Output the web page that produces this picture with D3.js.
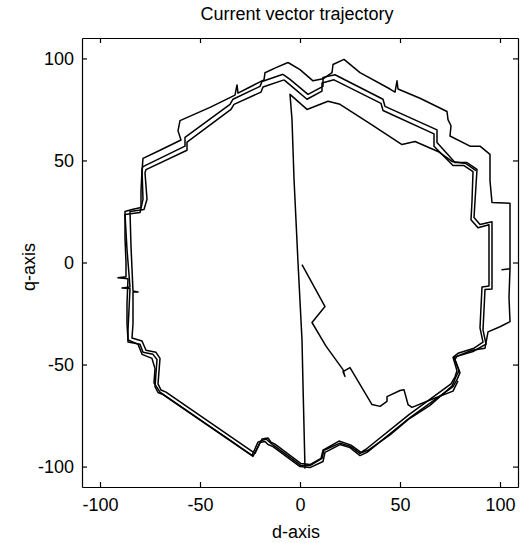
<!DOCTYPE html>
<html>
<head>
<meta charset="utf-8">
<script src="https://cdn.jsdelivr.net/npm/d3@7"></script>
<style>
  body { margin: 0; background: #fff; }
  text { font-family: "Liberation Sans", Arial, sans-serif; fill: #000; }
</style>
</head>
<body>
<div id="chart"></div>
<script>
// axis ticks
var xTicks = [-100, -50, 0, 50, 100];
var yTicks = [-100, -50, 0, 50, 100];

// outer loop of the trajectory (d, q)
var outerLoop = [[-6,98],[-12,95.5],[-17.5,93],[-18,89.5],[-25,86],[-31,83],[-31.5,87],[-32.5,82],[-45,76],[-60,69.5],
  [-61,64.5],[-59.5,60],[-70,55],[-78.5,51],[-79,45],[-79.5,35],[-79.5,27],[-84,26],[-87.5,25],[-87.5,12],[-87,0],
  [-87,-7],[-91,-7.5],[-86,-8],[-86.5,-20],[-86.5,-30],[-86,-38],[-81,-40],[-79,-45],[-74,-47],[-72.5,-52],[-73,-59],
  [-70,-63.5],[-50,-77],[-35,-87],[-24,-94.5],[-21,-88],[-17,-86.5],[-14,-89],[-5,-95.5],[0.5,-99.5],[5,-99.5],
  [11,-96],[12,-92],[20,-88.5],[25,-90],[30,-93.5],[34,-92],[45,-84.5],[54,-77],[65,-70],[76,-60.5],[78,-56],
  [79.5,-53],[77,-46.5],[86,-43],[92.5,-42],[94,-34],[100,-31.5],[105,-29],[104.5,-17],[105,-3],[101,-3.5],[105,-3],
  [105,10],[105,29],[96,29.4],[95,40],[95,53],[90,57],[85,57],[75,62],[75.5,67],[74,70],[73.5,74],[60,80.5],[49,85],
  [48.5,89],[47.5,83.5],[45,85],[30,93],[22,99.5],[16.5,97],[16,93],[11.5,90],[6.5,89],[0,94.5],[-6,98]];

// first middle loop
var midLoop1 = [[-8.5,92.2],[-19,88.7],[-20,86.3],[-33.5,80],[-35,77.5],[-57.5,61.3],[-57.5,57],[-78.5,47],[-79,45.6],
  [-78.5,31],[-80,24.5],[-87.5,23.5],[-86.5,6.4],[-85,-12],[-89,-12.5],[-85,-12.7],[-86,-33],[-86,-39],[-80,-40],
  [-78.5,-44],[-73.5,-45],[-71.5,-47.5],[-72.5,-60.8],[-71,-63.7],[-68.5,-64.7],[-23.5,-95],[-20,-88.2],[-17.5,-87.7],
  [-16,-89.2],[-13.5,-90.2],[0,-100],[5,-100.5],[11.5,-97.5],[12.5,-93],[20,-89.2],[25,-90.7],[30,-94.6],[33.5,-93],
  [55,-76],[76.5,-60.8],[78.5,-57.4],[80,-54],[77.5,-47.5],[78.5,-46],[86.5,-43.6],[93,-40],[91.5,-33],[92.5,-13.2],
  [96,-13],[96,20],[90,18.6],[87,22],[87.5,30],[88.5,45.6],[83.5,49],[77.5,49],[68.5,58.8],[68.5,65],[42.5,76.5],
  [41.5,80],[17.5,92],[11.5,90.7],[11.5,86.3],[4,82.4],[-5,89.7],[-8.5,92.2]];

// second middle loop, just inside the first
var midLoop2 = [[-8,89.5],[-18.5,86],[-19.5,83.5],[-33,77.5],[-34.5,75],[-56.5,59],[-56.5,55],[-77,45.5],[-77.5,44],
  [-76.5,31],[-78,26],[-85,25],[-84.5,8],[-83.5,-14],[-81,-14.5],[-83.5,-14.5],[-83.5,-30],[-84,-37],[-79,-38.5],
  [-77,-43],[-72,-44],[-70,-47],[-71,-59.5],[-69.5,-62.5],[-67,-63.5],[-22.5,-93.5],[-19,-86.5],[-16,-86],[-14.5,-88],
  [-12.5,-89],[0.5,-98.5],[5,-99],[10.5,-96],[11.5,-92],[19.5,-87.5],[25.5,-89.5],[30.5,-93],[33,-91.5],[54.5,-74.5],
  [75.5,-59.5],[77.5,-56],[78.5,-53],[76.5,-46.5],[79,-44.5],[87,-42],[91.5,-39],[90,-32],[91,-12],[94.5,-11.5],
  [94.5,18.5],[89,17],[85.5,21],[86,30],[86.5,44.5],[82,47.5],[76.5,47.5],[67,57],[67,63],[41.5,74.5],[40.5,78],
  [17,89.5],[11,88],[11,84],[3.5,80],[-5,87],[-8,89.5]];

// straight run from the bottom up to the top, then the inner top trace
var chordPath = [[2.5,-101],[1.5,-60],[1,-38],[-1,0],[-3,41],[-4,70],[-5,82.4],[3.5,75],[14,79],[20,77.5],
  [35,68],[51,57.8],[57.5,59.3],[69,54.4],[76,49.5],[83,48.5],[88,45]];

// start-up zigzag from the origin
var startPath = [[1,-1],[12.5,-21.6],[6,-29.4],[13,-41],[21.5,-52.5],[22.5,-55.9],[21.5,-53.5],[25,-51.5],[36,-69.6],
  [40,-70.5],[43.5,-68],[43.5,-65.7],[50,-62.7],[52,-62.3],[54,-69.6],[56,-71],[66,-67],[76.5,-63],[79,-58]];

var traces = [outerLoop, midLoop1, midLoop2, chordPath, startPath];

var width = 525, height = 543;
var margin = {left: 82, right: 7, top: 38, bottom: 56};

var svg = d3.select('#chart').append('svg')
  .attr('width', width).attr('height', height);

svg.append('rect').attr('width', width).attr('height', height).attr('fill', '#fff');

var x = d3.scaleLinear().domain([-109, 109]).range([margin.left, width - margin.right]);
var y = d3.scaleLinear().domain([-110, 110]).range([height - margin.bottom, margin.top]);

svg.append('clipPath').attr('id', 'plotclip')
  .append('rect')
  .attr('x', x.range()[0]).attr('y', y.range()[1])
  .attr('width', x.range()[1] - x.range()[0])
  .attr('height', y.range()[0] - y.range()[1]);

var line = d3.line().x(function(d) { return x(d[0]); }).y(function(d) { return y(d[1]); });

svg.append('g').attr('clip-path', 'url(#plotclip)')
  .selectAll('path')
  .data(traces)
  .enter().append('path')
  .attr('d', line)
  .attr('fill', 'none')
  .attr('stroke', '#000')
  .attr('stroke-width', 1.5)
  .attr('stroke-linejoin', 'round');

// plain hyphen minus like the original labels
function plain(d) { return String(d); }

// axes, ticks pointing inward like matlab
var fontSize = 18;
svg.append('g').attr('transform', 'translate(0,' + y.range()[0] + ')')
  .call(d3.axisBottom(x).tickValues(xTicks).tickFormat(plain).tickSize(-5).tickSizeOuter(0).tickPadding(11));
svg.append('g').attr('transform', 'translate(' + x.range()[0] + ',0)')
  .call(d3.axisLeft(y).tickValues(yTicks).tickFormat(plain).tickSize(-5).tickSizeOuter(0).tickPadding(8));
svg.append('g').attr('transform', 'translate(0,' + y.range()[1] + ')')
  .call(d3.axisTop(x).tickValues(xTicks).tickSize(-5).tickSizeOuter(0).tickFormat(''));
svg.append('g').attr('transform', 'translate(' + x.range()[1] + ',0)')
  .call(d3.axisRight(y).tickValues(yTicks).tickSize(-5).tickSizeOuter(0).tickFormat(''));

svg.selectAll('.tick text')
  .attr('font-size', fontSize)
  .attr('font-family', '"Liberation Sans", Arial, sans-serif');
svg.selectAll('.domain, .tick line').attr('stroke', '#000').attr('stroke-width', 1.2);

svg.append('text')
  .attr('x', 297).attr('y', 20)
  .attr('text-anchor', 'middle')
  .attr('font-size', fontSize)
  .text('Current vector trajectory');

svg.append('text')
  .attr('x', 296).attr('y', 538)
  .attr('text-anchor', 'middle')
  .attr('font-size', fontSize)
  .text('d-axis');

svg.append('text')
  .attr('transform', 'translate(35,267) rotate(-90)')
  .attr('text-anchor', 'middle')
  .attr('font-size', fontSize)
  .text('q-axis');
</script>
</body>
</html>
